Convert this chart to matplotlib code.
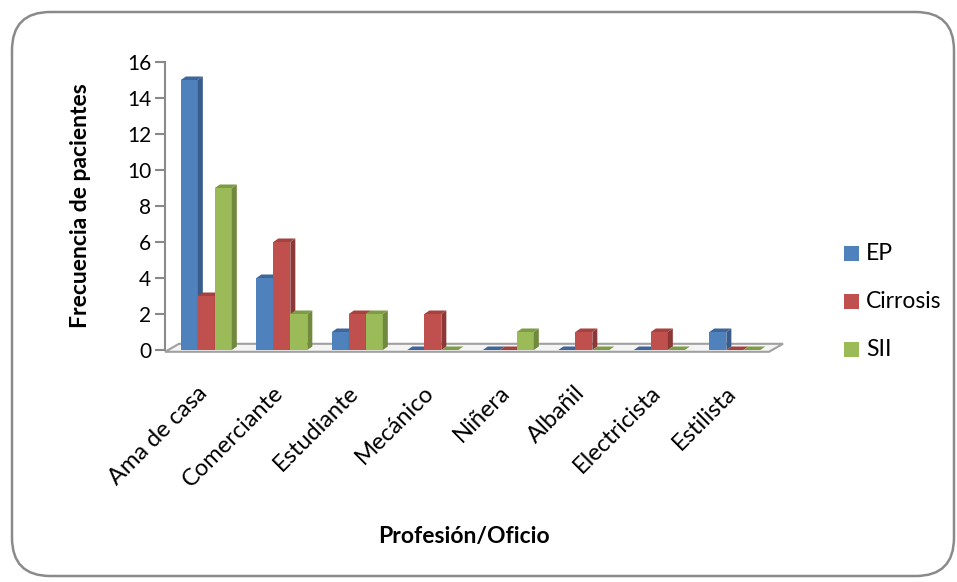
import matplotlib.pyplot as plt
import numpy as np
from matplotlib.patches import Polygon, FancyBboxPatch, Rectangle

categories = ["Ama de casa", "Comerciante", "Estudiante", "Mecánico",
              "Niñera", "Albañil", "Electricista", "Estilista"]
series_names = ["EP", "Cirrosis", "SII"]
ep = [15, 4, 1, 0, 0, 0, 0, 1]
cirrosis = [3, 6, 2, 2, 0, 1, 1, 0]
sii = [9, 2, 2, 0, 1, 0, 0, 0]

front = ["#4F81BD", "#C0504D", "#9BBB59"]
side = ["#385D8A", "#8C3836", "#71893F"]
top = ["#3E6699", "#A5413E", "#7E9C45"]

plt.rcParams["font.family"] = ["Lato", "DejaVu Sans"]

W, H = 957, 582
fig = plt.figure(figsize=(W / 100, H / 100), dpi=100)

# outer rounded frame
frame = FancyBboxPatch((12 / W, 6 / H), 942 / W, 564 / H,
                       boxstyle="round,pad=0,rounding_size=0.04",
                       transform=fig.transFigure, fill=False,
                       edgecolor="#8a8a8a", linewidth=1.8,
                       mutation_aspect=W / H)
fig.patches.append(frame)

x0, x1, y0, y1 = 165, 769, 350, 62
ax = fig.add_axes([x0 / W, 1 - y0 / H, (x1 - x0) / W, (y0 - y1) / H])
ax.set_xlim(-0.5, 7.5)
ax.set_ylim(0, 16)

# data units per pixel
ux = 8 / (x1 - x0)
uy = 16 / (y0 - y1)

# floor slab
fdx, fdy = 14 * ux, 8 * uy
floor = Polygon([(-0.5, -0.1), (-0.5 + fdx, -0.1 + fdy),
                 (7.5 + fdx, -0.1 + fdy), (7.5, -0.1)],
                closed=True, facecolor="#f4f4f4", edgecolor="#a0a0a0",
                linewidth=1.5, clip_on=False, zorder=1)
ax.add_patch(floor)

bw = 0.225
dx, dy = 5 * ux, 3.5 * uy
for k, vals in enumerate([ep, cirrosis, sii]):
    for i, v in enumerate(vals):
        xl = i - 0.29 + k * bw
        xr = xl + bw
        z = 2 + k
        ax.add_patch(Rectangle((xl, 0), bw, v, facecolor=front[k],
                               edgecolor="none", zorder=z, clip_on=False))
        ax.add_patch(Polygon([(xr, 0), (xr + dx, dy), (xr + dx, v + dy), (xr, v)],
                             closed=True, facecolor=side[k], edgecolor="none",
                             zorder=z, clip_on=False))
        ax.add_patch(Polygon([(xl, v), (xl + dx, v + dy), (xr + dx, v + dy), (xr, v)],
                             closed=True, facecolor=top[k], edgecolor="none",
                             zorder=z, clip_on=False))

for s in ["top", "right", "bottom"]:
    ax.spines[s].set_visible(False)
ax.spines["left"].set_color("#8a8a8a")
ax.spines["left"].set_linewidth(1.5)
ax.set_yticks(np.arange(0, 17, 2))
ax.tick_params(axis="y", length=7, width=1.5, color="#8a8a8a",
               labelsize=15, pad=3)
ax.set_xticks([])

for i, c in enumerate(categories):
    ax.text(i + 0.02, -2.2, c, rotation=45, ha="right", va="center",
            rotation_mode="anchor", fontsize=17)

ax.set_ylabel("Frecuencia de pacientes", fontsize=16.5, fontweight="bold",
              labelpad=26)
fig.text(464 / W, 1 - 536 / H, "Profesión/Oficio", ha="center", va="center",
         fontsize=16.5, fontweight="bold")

# legend
for k, name in enumerate(series_names):
    yc = 1 - (253.5 + k * 48) / H
    fig.patches.append(Rectangle((844 / W, yc - 7.5 / H), 15 / W, 15 / H,
                                 transform=fig.transFigure,
                                 facecolor=front[k], edgecolor="none"))
    fig.text(866 / W, yc, name, ha="left", va="center", fontsize=16.5)

fig.savefig("out.png", dpi=100)
